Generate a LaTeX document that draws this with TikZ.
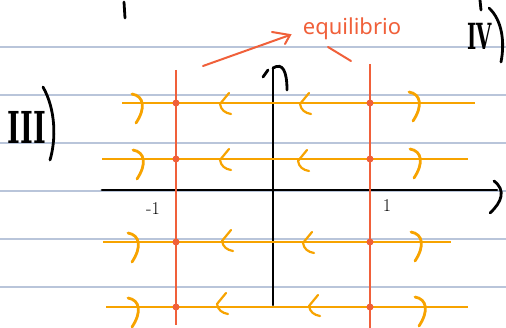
\documentclass[tikz,border=0pt]{standalone}
\usepackage{fontspec}
\newfontfamily\handfont{Noto Sans}
\newfontfamily\romfont{DejaVu Serif}
\definecolor{rule}{HTML}{B9C5DA}
\definecolor{eqred}{HTML}{F0603A}
\definecolor{flow}{HTML}{F7A300}
\begin{document}
\begin{tikzpicture}[x=1pt,y=-1pt,
  ruled/.style={draw=rule,line width=1.6pt},
  axis/.style={draw=black,line width=2.8pt,line cap=round},
  flowline/.style={draw=flow,line width=2.8pt},
  eqline/.style={draw=eqred,line width=2.4pt},
  eqdot/.style={circle,fill=eqred,inner sep=0pt,minimum size=7pt},
  hand/.style={draw=black,line width=2.8pt,line cap=round},
  rmark/.pic={\draw[flow,line width=2.8pt,line cap=round] (-9,-9) .. controls (3,-7) and (5,5) .. (-5,20);},
  lmark/.pic={\draw[flow,line width=2.2pt,line cap=round,line join=round] (5,-10) .. controls (1,-5) .. (-4,1) .. controls (-3,7) and (1,10) .. (7,11);}
]
\useasboundingbox (0,0) rectangle (506,328);
% ruled paper lines
\foreach \yy in {47,95,143,191,239,287}{\draw[ruled] (0,\yy) -- (506,\yy);}
% fragments of previous line
\draw[hand] (124,2) -- (125,18);
\draw[hand] (480,0) -- (481,10);
% roman numerals
\node[font=\romfont\bfseries\fontsize{44}{44}\selectfont,xscale=0.62,transform shape,inner sep=0] (three) at (27,127) {III};
\draw[hand] (43,87) .. controls (56,110) and (56,140) .. (50,160);
\node[font=\romfont\bfseries\fontsize{36}{36}\selectfont,xscale=0.55,transform shape,inner sep=0] (four) at (480,36) {IV};
\draw[hand] (489,8) .. controls (502,20) and (505,42) .. (501,62);
% axes
\coordinate (xl) at (102,190); \coordinate (xr) at (497,190);
\coordinate (yb) at (273,305); \coordinate (yt) at (273,68);
\draw[axis] (xl) -- (xr);
\draw[axis] (494,181) .. controls (506,190) and (502,202) .. (490,213);
\draw[axis] (yb) -- (yt);
\draw[axis] (263,77) -- (268,70) (yt) .. controls (283,62) and (287,72) .. (287,90);
% flow lines
\coordinate (a1) at (122,103); \coordinate (b1) at (475,103);
\coordinate (a2) at (102,159); \coordinate (b2) at (468,159);
\coordinate (a3) at (103,242); \coordinate (b3) at (451,242);
\coordinate (a4) at (106,307); \coordinate (b4) at (468,307);
\draw[flowline] (a1) -- (b1);
\draw[flowline] (a2) -- (b2);
\draw[flowline] (a3) -- (b3);
\draw[flowline] (a4) -- (b4);
% equilibrium lines
\coordinate (lt) at (176,70); \coordinate (lb) at (176,325);
\coordinate (rt) at (370,64); \coordinate (rb) at (370,328);
\draw[eqline] (lt) -- (lb);
\draw[eqline] (rt) -- (rb);
\foreach \yy/\n in {103/1,159/2,242/3,307/4}{
  \node[eqdot] (dl\n) at (176,\yy) {};
  \node[eqdot] (dr\n) at (370,\yy) {};
}
% direction marks
\pic at (141,103) {rmark}; \pic at (418,101) {rmark};
\pic at (224,103) {lmark}; \pic at (304,103) {lmark};
\pic at (142,159) {rmark}; \pic at (419,158) {rmark};
\pic at (224,159) {lmark}; \pic at (302,160) {lmark};
\pic at (137,242) {rmark}; \pic at (420,241) {rmark};
\pic at (226,240) {lmark}; \pic at (307,242) {lmark};
\pic at (137,307) {rmark}; \pic at (424,306) {rmark};
\pic at (221,303) {lmark}; \pic at (313,305) {lmark};
% tick labels
\node[font=\fontsize{18}{18}\selectfont,inner sep=0] (mone) at (153,209) {-1};
\node[font=\fontsize{18}{18}\selectfont,inner sep=0] (one) at (387,206) {1};
% equilibrio label
\node[font=\handfont\fontsize{22}{22}\selectfont,text=eqred,inner sep=0,anchor=base] (eq) at (352,35) {equilibrio};
\coordinate (arrS) at (203,66); \coordinate (arrE) at (290,35);
\draw[eqline,line width=2pt,line cap=round] (arrS) -- (arrE);
\draw[eqline,line width=2pt,line cap=round] (272,32) -- (arrE) -- (285,44);
\coordinate (qS) at (328,47); \coordinate (qE) at (351,61);
\draw[eqline,line width=2pt,line cap=round] (qS) -- (qE);
\end{tikzpicture}
\end{document}
